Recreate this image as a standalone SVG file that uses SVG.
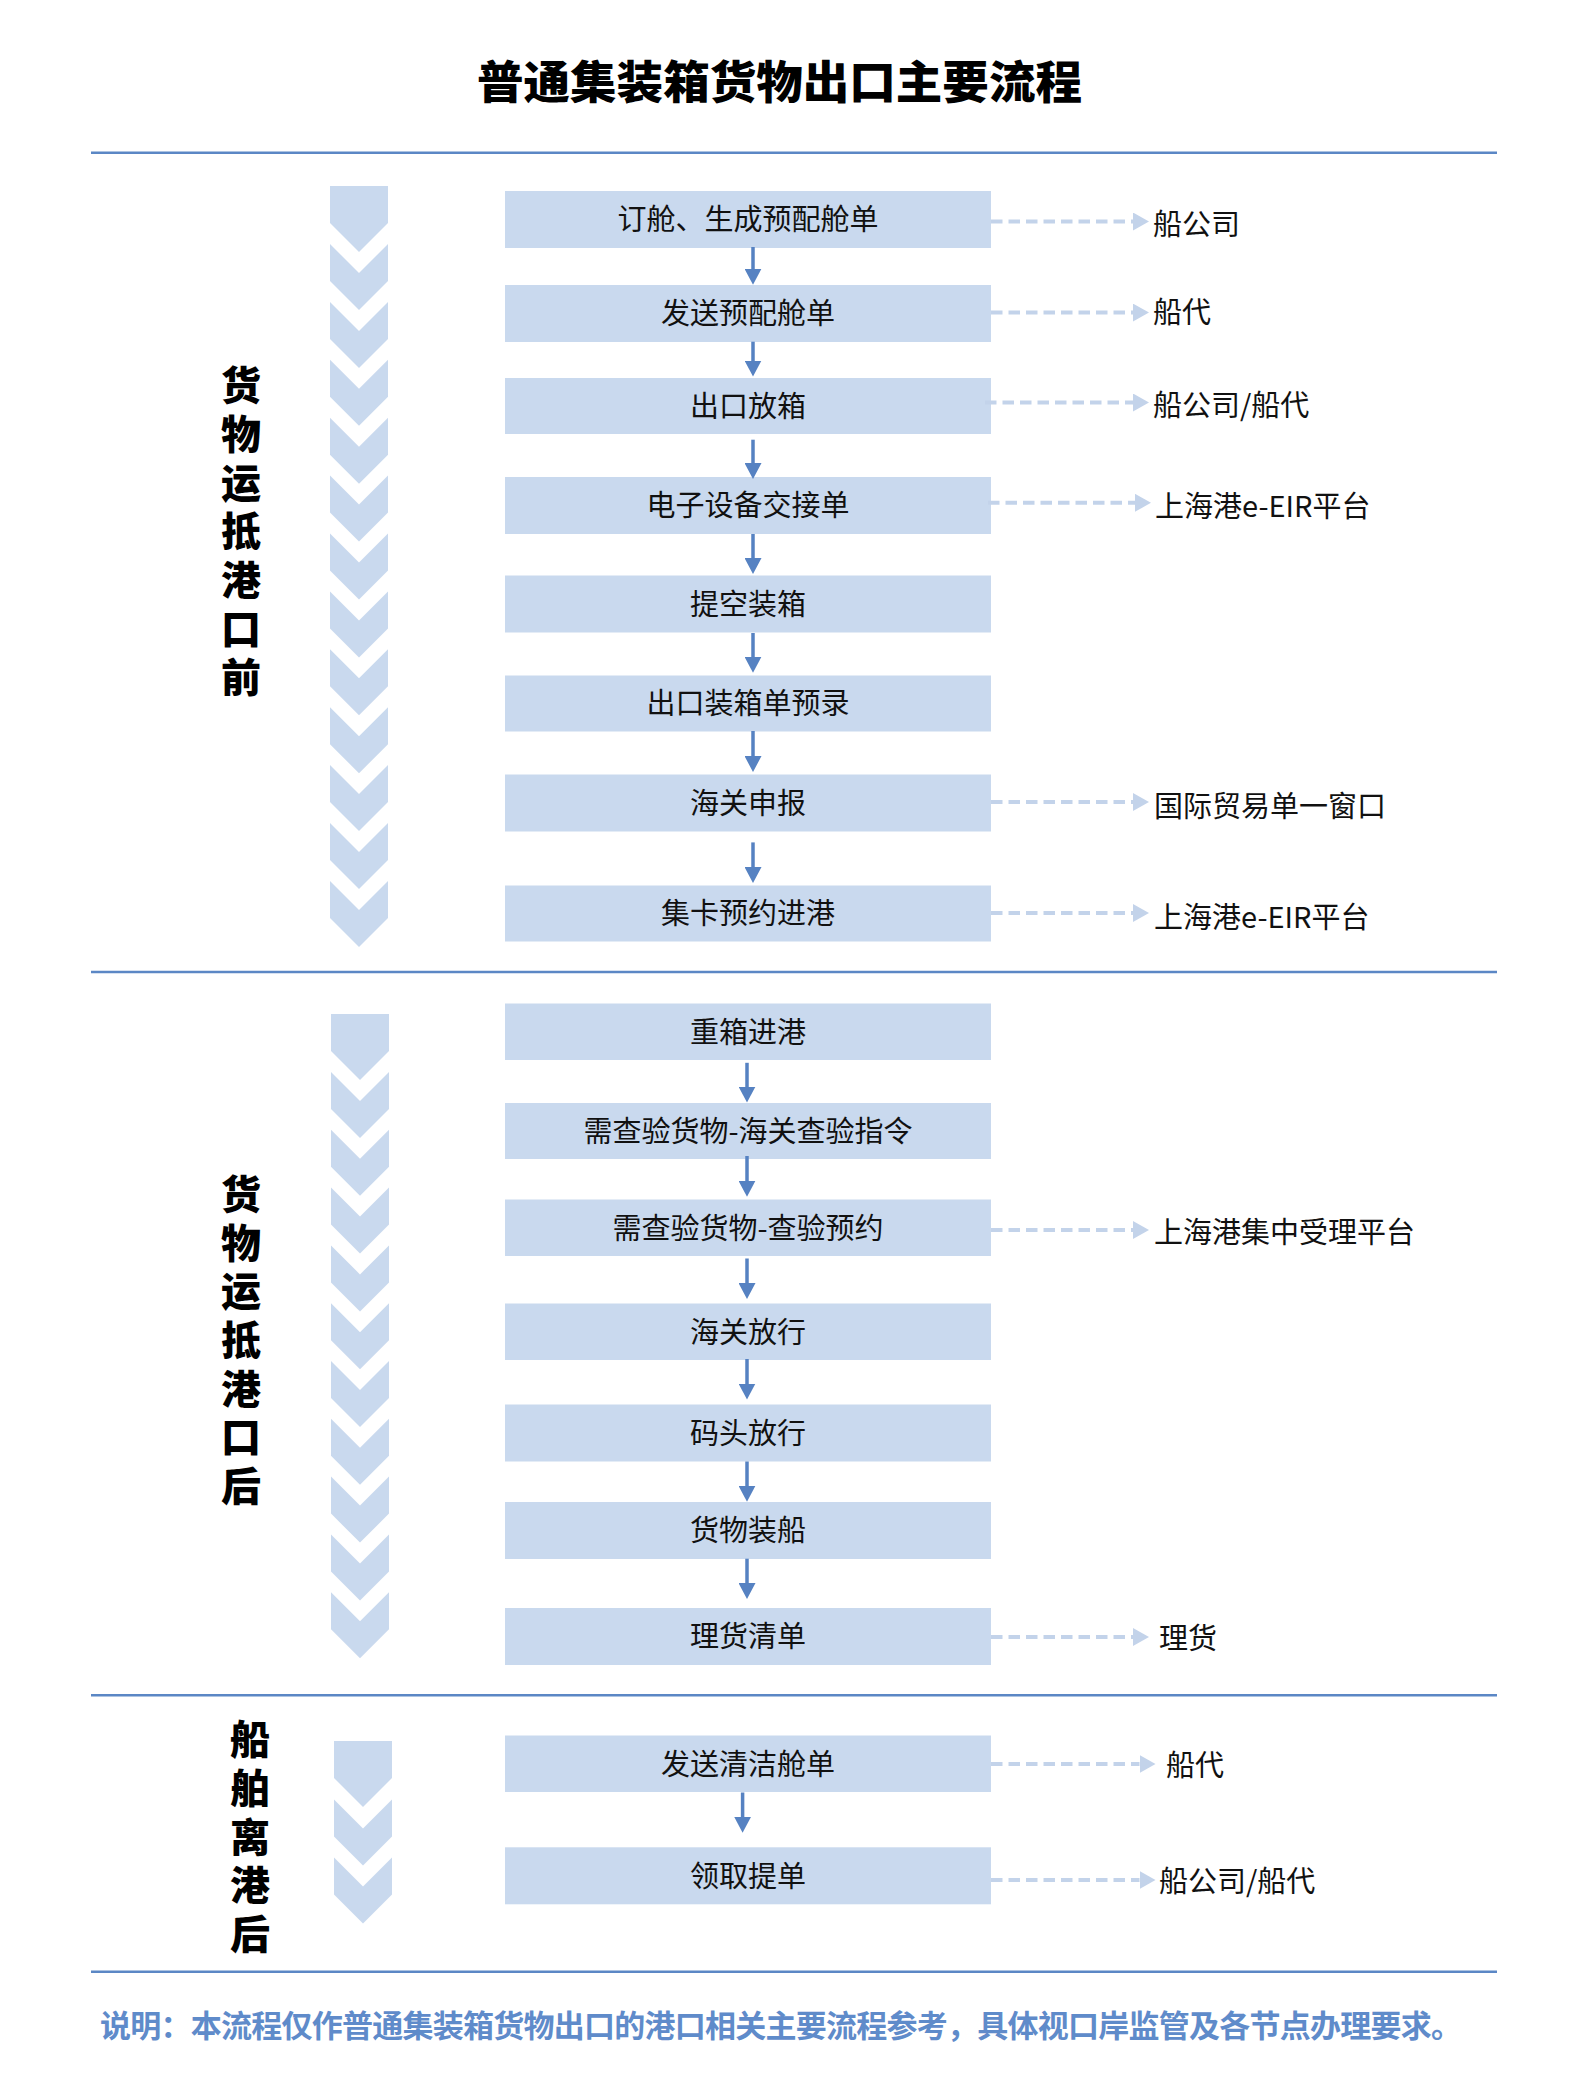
<svg xmlns="http://www.w3.org/2000/svg" width="1572" height="2094" viewBox="0 0 1572 2094">
<style>
  .bg{fill:#ffffff}
  .sep{stroke:#5B87C5;stroke-width:2.5}
  .box{fill:#C9D9EE}
  .chev{fill:#C9D9EE}
  .bt{font-family:"Noto Sans CJK SC","Noto Sans",sans-serif;font-size:29px;fill:#111;text-anchor:middle}
  .lt{font-family:"Noto Sans CJK SC","Noto Sans",sans-serif;font-size:29px;fill:#111}
  .st{font-family:"Noto Sans CJK SC","Noto Sans",sans-serif;font-size:40px;font-weight:900;fill:#000;writing-mode:vertical-rl;letter-spacing:8.7px}
  .title{font-family:"Noto Sans CJK SC","Noto Sans",sans-serif;font-size:45px;font-weight:900;fill:#000}
  .note{font-family:"Noto Sans CJK SC","Noto Sans",sans-serif;font-size:31px;font-weight:700;fill:#5F8BCA}
  .va{stroke:#5682C2;stroke-width:3.5;fill:none;marker-end:url(#ah)}
  .da{stroke:#C3D3EA;stroke-width:4;stroke-dasharray:11.5 6;fill:none;marker-end:url(#dh)}
</style>
<defs>
  <marker id="ah" markerUnits="userSpaceOnUse" markerWidth="16" markerHeight="17" refX="6" refY="8.5" orient="auto">
    <path d="M0,0 L16,8.5 L0,17 Z" fill="#5682C2"/>
  </marker>
  <marker id="dh" markerUnits="userSpaceOnUse" markerWidth="16" markerHeight="18" refX="0" refY="9" orient="auto">
    <path d="M0,0 L16,9 L0,18 Z" fill="#C3D3EA"/>
  </marker>
  <path id="chev" d="M0,0 L29,29 L58,0 L58,37 L29,66 L0,37 Z"/>
  <path id="head" d="M0,0 L58,0 L58,37 L29,66 L0,37 Z"/>
</defs>
<rect class="bg" x="0" y="0" width="1572" height="2094"/>

<g id="title"><text class="title" x="477" y="99" textLength="605" lengthAdjust="spacingAndGlyphs">普通集装箱货物出口主要流程</text></g>

<g id="separators">
  <line class="sep" x1="91" y1="152.7" x2="1497" y2="152.7"/>
  <line class="sep" x1="91" y1="972" x2="1497" y2="972"/>
  <line class="sep" x1="91" y1="1695.3" x2="1497" y2="1695.3"/>
  <line class="sep" x1="91" y1="1971.8" x2="1497" y2="1971.8"/>
</g>

<g id="chevrons-1" class="chev">
  <use href="#head" x="330" y="186"/>
  <use href="#chev" x="330" y="244"/>
  <use href="#chev" x="330" y="301.9"/>
  <use href="#chev" x="330" y="359.8"/>
  <use href="#chev" x="330" y="417.7"/>
  <use href="#chev" x="330" y="475.6"/>
  <use href="#chev" x="330" y="533.5"/>
  <use href="#chev" x="330" y="591.4"/>
  <use href="#chev" x="330" y="649.3"/>
  <use href="#chev" x="330" y="707.2"/>
  <use href="#chev" x="330" y="765.1"/>
  <use href="#chev" x="330" y="823"/>
  <use href="#chev" x="330" y="880.9"/>
</g>
<g id="chevrons-2" class="chev">
  <use href="#head" x="331" y="1014"/>
  <use href="#chev" x="331" y="1072"/>
  <use href="#chev" x="331" y="1129.8"/>
  <use href="#chev" x="331" y="1187.6"/>
  <use href="#chev" x="331" y="1245.4"/>
  <use href="#chev" x="331" y="1303.2"/>
  <use href="#chev" x="331" y="1361"/>
  <use href="#chev" x="331" y="1418.8"/>
  <use href="#chev" x="331" y="1476.6"/>
  <use href="#chev" x="331" y="1534.4"/>
  <use href="#chev" x="331" y="1592.2"/>
</g>
<g id="chevrons-3" class="chev">
  <use href="#head" x="334" y="1741"/>
  <use href="#chev" x="334" y="1799.4"/>
  <use href="#chev" x="334" y="1857.4"/>
</g>

<g id="stage-1"><text class="st" x="241" y="365">货物运抵港口前</text></g>
<g id="stage-2"><text class="st" x="241" y="1173.7">货物运抵港口后</text></g>
<g id="stage-3"><text class="st" x="250" y="1719">船舶离港后</text></g>

<g id="n1"><rect class="box" x="505" y="191" width="486" height="57"/><text class="bt" x="748" y="230">订舱、生成预配舱单</text></g>
<g id="n2"><rect class="box" x="505" y="285" width="486" height="57"/><text class="bt" x="748" y="324">发送预配舱单</text></g>
<g id="n3"><rect class="box" x="505" y="378" width="486" height="56"/><text class="bt" x="748" y="417">出口放箱</text></g>
<g id="n4"><rect class="box" x="505" y="477" width="486" height="57"/><text class="bt" x="748" y="516">电子设备交接单</text></g>
<g id="n5"><rect class="box" x="505" y="575.5" width="486" height="57"/><text class="bt" x="748" y="614.5">提空装箱</text></g>
<g id="n6"><rect class="box" x="505" y="675.5" width="486" height="56"/><text class="bt" x="748" y="714">出口装箱单预录</text></g>
<g id="n7"><rect class="box" x="505" y="774.5" width="486" height="57"/><text class="bt" x="748" y="813.5">海关申报</text></g>
<g id="n8"><rect class="box" x="505" y="885.5" width="486" height="56"/><text class="bt" x="748" y="924">集卡预约进港</text></g>
<g id="n9"><rect class="box" x="505" y="1003.5" width="486" height="56.5"/><text class="bt" x="748" y="1042.5">重箱进港</text></g>
<g id="n10"><rect class="box" x="505" y="1103" width="486" height="56"/><text class="bt" x="748" y="1141.5">需查验货物-海关查验指令</text></g>
<g id="n11"><rect class="box" x="505" y="1199.5" width="486" height="56.5"/><text class="bt" x="748" y="1238.5">需查验货物-查验预约</text></g>
<g id="n12"><rect class="box" x="505" y="1303.5" width="486" height="56.5"/><text class="bt" x="748" y="1342.5">海关放行</text></g>
<g id="n13"><rect class="box" x="505" y="1404.5" width="486" height="57"/><text class="bt" x="748" y="1443.5">码头放行</text></g>
<g id="n14"><rect class="box" x="505" y="1502" width="486" height="57"/><text class="bt" x="748" y="1541">货物装船</text></g>
<g id="n15"><rect class="box" x="505" y="1608" width="486" height="57"/><text class="bt" x="748" y="1647">理货清单</text></g>
<g id="n16"><rect class="box" x="505" y="1735.5" width="486" height="56.5"/><text class="bt" x="748" y="1774.5">发送清洁舱单</text></g>
<g id="n17"><rect class="box" x="505" y="1847.3" width="486" height="57"/><text class="bt" x="748" y="1886.5">领取提单</text></g>

<g id="ext-labels">
  <text class="lt" x="1153" y="235">船公司</text>
  <text class="lt" x="1153" y="323">船代</text>
  <text class="lt" x="1153" y="416">船公司/船代</text>
  <text class="lt" x="1155" y="517">上海港e-EIR平台</text>
  <text class="lt" x="1154" y="817">国际贸易单一窗口</text>
  <text class="lt" x="1154" y="928">上海港e-EIR平台</text>
  <text class="lt" x="1154" y="1243">上海港集中受理平台</text>
  <text class="lt" x="1159" y="1649">理货</text>
  <text class="lt" x="1166" y="1776">船代</text>
  <text class="lt" x="1159" y="1892">船公司/船代</text>
</g>

<g id="connectors">
  <line class="va" x1="753" y1="247" x2="753" y2="274.7"/>
  <line class="va" x1="753" y1="341.7" x2="753" y2="366.5"/>
  <line class="va" x1="753" y1="439.7" x2="753" y2="469"/>
  <line class="va" x1="753" y1="534" x2="753" y2="564"/>
  <line class="va" x1="753" y1="633" x2="753" y2="662.7"/>
  <line class="va" x1="753" y1="731" x2="753" y2="762"/>
  <line class="va" x1="753" y1="842.4" x2="753" y2="873"/>
  <line class="va" x1="747" y1="1062.8" x2="747" y2="1092.6"/>
  <line class="va" x1="747" y1="1156" x2="747" y2="1186.7"/>
  <line class="va" x1="747" y1="1258.5" x2="747" y2="1289"/>
  <line class="va" x1="747" y1="1359" x2="747" y2="1389.5"/>
  <line class="va" x1="747" y1="1461.5" x2="747" y2="1491.7"/>
  <line class="va" x1="747" y1="1558.7" x2="747" y2="1589"/>
  <line class="va" x1="742.6" y1="1792.5" x2="742.6" y2="1822.7"/>

  <line class="da" x1="991" y1="221.5" x2="1133" y2="221.5"/>
  <line class="da" x1="991" y1="312.6" x2="1133" y2="312.6"/>
  <line class="da" x1="985" y1="402.5" x2="1133" y2="402.5"/>
  <line class="da" x1="988" y1="502.8" x2="1135" y2="502.8"/>
  <line class="da" x1="991" y1="802" x2="1133" y2="802"/>
  <line class="da" x1="991" y1="913" x2="1133" y2="913"/>
  <line class="da" x1="991" y1="1230" x2="1133" y2="1230"/>
  <line class="da" x1="991" y1="1637" x2="1133" y2="1637"/>
  <line class="da" x1="991" y1="1764" x2="1139.5" y2="1764"/>
  <line class="da" x1="991" y1="1880" x2="1139.5" y2="1880"/>
</g>

<g id="footnote"><text class="note" x="100" y="2037" textLength="1362" lengthAdjust="spacing">说明：本流程仅作普通集装箱货物出口的港口相关主要流程参考，具体视口岸监管及各节点办理要求。</text></g>
</svg>
